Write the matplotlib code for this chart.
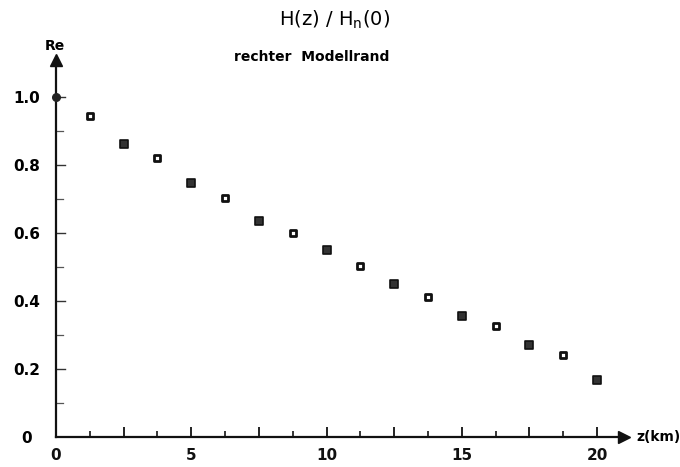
import numpy as np
import matplotlib.pyplot as plt

# depth in km and real part of H(z)/H_n(0)
z_filled = [2.5, 5.0, 7.5, 10.0, 12.5, 15.0, 17.5, 20.0]
re_filled = [0.862, 0.747, 0.635, 0.550, 0.450, 0.356, 0.271, 0.168]
z_open = [1.25, 3.75, 6.25, 8.75, 11.25, 13.75, 16.25, 18.75]
re_open = [0.944, 0.821, 0.703, 0.600, 0.503, 0.412, 0.326, 0.241]
z_start = [0.0]
re_start = [1.0]

y_ticks = [0, 0.2, 0.4, 0.6, 0.8, 1.0]
y_labels = ['0', '0.2', '0.4', '0.6', '0.8', '1.0']

plt.rcParams['font.family'] = ['DejaVu Sans']

fig = plt.figure(figsize=(6.8, 4.67), dpi=100)
# origin at pixel (56, 437); 20 km -> 541 px, 1.0 -> 340 px
x_max, y_max = 21.0, 1.11
ax = fig.add_axes([56 / 680, 30 / 467, x_max * 27.05 / 680, y_max * 340 / 467])
ax.set_xlim(0, x_max)
ax.set_ylim(0, y_max)

for s in ['top', 'right']:
    ax.spines[s].set_visible(False)
for s in ['left', 'bottom']:
    ax.spines[s].set_linewidth(1.6)
    ax.spines[s].set_color('#111111')

# arrow heads
ax.plot(1, 0, '>', color='#111111', ms=8, transform=ax.transAxes, clip_on=False)
ax.plot(0, 1, '^', color='#111111', ms=8, transform=ax.transAxes, clip_on=False)

ax.scatter(z_filled, re_filled, marker='s', s=28, color='#333333',
           edgecolors='#111111', linewidths=1.2, zorder=3)
ax.scatter(z_open, re_open, marker='s', s=16, color='white',
           edgecolors='#111111', linewidths=2.0, zorder=3)
ax.scatter(z_start, re_start, marker='o', s=30, color='#222222',
           zorder=4, clip_on=False)

ax.set_xticks(np.arange(0, 20.1, 2.5), minor=False)
ax.set_xticks(np.arange(1.25, 20, 2.5), minor=True)
ax.set_xticklabels(['0', '', '5', '', '10', '', '15', '', '20'])
ax.set_yticks(y_ticks)
ax.set_yticks(np.arange(0.1, 1.0, 0.2), minor=True)
ax.set_yticklabels(y_labels)

ax.tick_params(axis='x', which='major', direction='in', length=7, width=1.3,
               pad=8, labelsize=11, colors='#111111')
ax.tick_params(axis='x', which='minor', direction='in', length=4, width=1.1)
ax.tick_params(axis='y', which='major', direction='out', length=0,
               pad=21, labelsize=11)
ax.tick_params(axis='y', which='minor', length=0)
for lbl in ax.get_xticklabels() + ax.get_yticklabels():
    lbl.set_fontweight('bold')
for lbl in ax.get_yticklabels():
    lbl.set_horizontalalignment('center')

# y ticks sit on the right side of the axis
for y in y_ticks[1:]:
    ax.plot([0, 0.35], [y, y], color='#333333', lw=1.0, clip_on=False)
for y in np.arange(0.1, 1.0, 0.2):
    ax.plot([0, 0.25], [y, y], color='#555555', lw=0.9, clip_on=False)

fig.text(335 / 680, 1 - 20 / 467, r'H(z) / H$_\mathrm{n}$(0)', ha='center',
         va='center', fontsize=14)
fig.text(312 / 680, 1 - 57 / 467, 'rechter  Modellrand', ha='center',
         va='center', fontsize=10, fontweight='bold')
fig.text(55 / 680, 1 - 46 / 467, 'Re', ha='center', va='center',
         fontsize=10, fontweight='bold')
fig.text(636 / 680, 1 - 437 / 467, 'z(km)', ha='left', va='center',
         fontsize=10, fontweight='bold')

fig.savefig('out.png', dpi=100, facecolor='white')
